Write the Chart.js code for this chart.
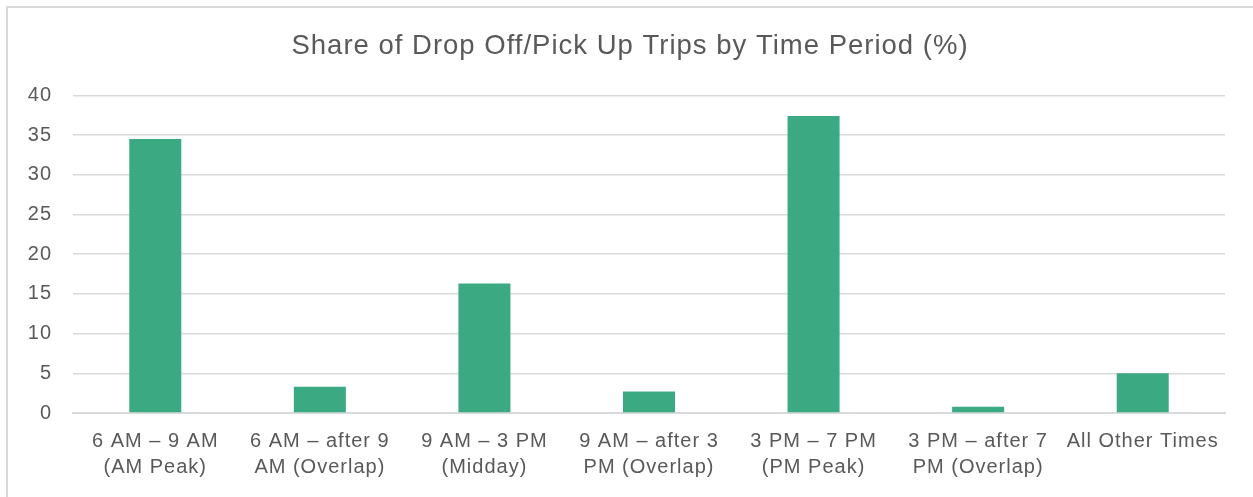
<!DOCTYPE html>
<html lang="en">
<head>
    <meta charset="UTF-8">
    <title>Share of Drop Off/Pick Up Trips by Time Period (%)</title>
    <script src="https://cdn.jsdelivr.net/npm/chart.js"></script>
    <style>
        html, body { margin: 0; padding: 0; background: #fff; overflow: hidden; }
        #frame {
            position: absolute; left: 6px; top: 6px; width: 1400px; height: 600px;
            border-left: 2px solid #d9d9d9; border-top: 2px solid #d9d9d9;
        }
        #wrap { position: absolute; left: 0; top: 0; width: 1253px; height: 497px; }
    </style>
</head>
<body>
    <div id="frame"></div>
    <div id="wrap"><canvas id="tripsChart" width="1253" height="497"></canvas></div>

    <script>
        // Données
        const periods = [
            ['6 AM – 9 AM', '(AM Peak)'],
            ['6 AM – after 9', 'AM (Overlap)'],
            ['9 AM – 3 PM', '(Midday)'],
            ['9 AM – after 3', 'PM (Overlap)'],
            ['3 PM – 7 PM', '(PM Peak)'],
            ['3 PM – after 7', 'PM (Overlap)'],
            ['All Other Times']
        ];
        const shares = [34.5, 3.3, 16.3, 2.7, 37.4, 0.8, 5.0];
        const yTicks = [0, 5, 10, 15, 20, 25, 30, 35, 40];

        const textColor = '#595959';
        const gridColor = '#d9d9d9';
        const font = 'Liberation Sans, Arial, sans-serif';

        // texte un peu plus large, comme dans l'original
        const spacing = {
            id: 'spacing',
            beforeUpdate(chart) { chart.ctx.letterSpacing = '1px'; },
            beforeDraw(chart) { chart.ctx.letterSpacing = '1px'; },
            afterLayout(chart) {
                // centrer le titre sur toute la largeur du cadre
                if (chart.titleBlock) { chart.titleBlock.left = 0; chart.titleBlock.right = chart.width + 7; }
            }
        };

        const ctx = document.getElementById('tripsChart').getContext('2d');
        new Chart(ctx, {
            type: 'bar',
            data: {
                labels: periods,
                datasets: [{
                    label: 'Share (%)',
                    data: shares,
                    backgroundColor: '#3baa83',
                    borderWidth: 0,
                    categoryPercentage: 1,
                    barPercentage: 0.316
                }]
            },
            options: {
                responsive: false,
                animation: false,
                layout: { padding: { left: 0, right: 28, top: 0, bottom: 0 } },
                plugins: {
                    legend: { display: false },
                    tooltip: { enabled: false },
                    title: {
                        display: true,
                        text: 'Share of Drop Off/Pick Up Trips by Time Period (%)',
                        color: textColor,
                        font: { family: font, size: 27.5, weight: 'normal', lineHeight: 1.2 },
                        padding: { top: 30, bottom: 32.3 }
                    }
                },
                scales: {
                    x: {
                        grid: { display: false, drawTicks: false },
                        border: { display: true, color: gridColor, width: 2 },
                        ticks: {
                            color: textColor,
                            font: { family: font, size: 20, lineHeight: 1.33 },
                            padding: 15,
                            maxRotation: 0,
                            autoSkip: false
                        },
                        afterFit: (scale) => { scale.height = 84; }
                    },
                    y: {
                        min: 0,
                        max: 40,
                        afterBuildTicks: (scale) => { scale.ticks = yTicks.map(v => ({ value: v })); },
                        grid: { color: gridColor, lineWidth: 1.5, drawTicks: false },
                        border: { display: false },
                        ticks: {
                            color: textColor,
                            font: { family: font, size: 20 },
                            padding: 21
                        },
                        afterFit: (scale) => { scale.width = 73; }
                    }
                }
            },
            plugins: [spacing]
        });
    </script>
</body>
</html>
